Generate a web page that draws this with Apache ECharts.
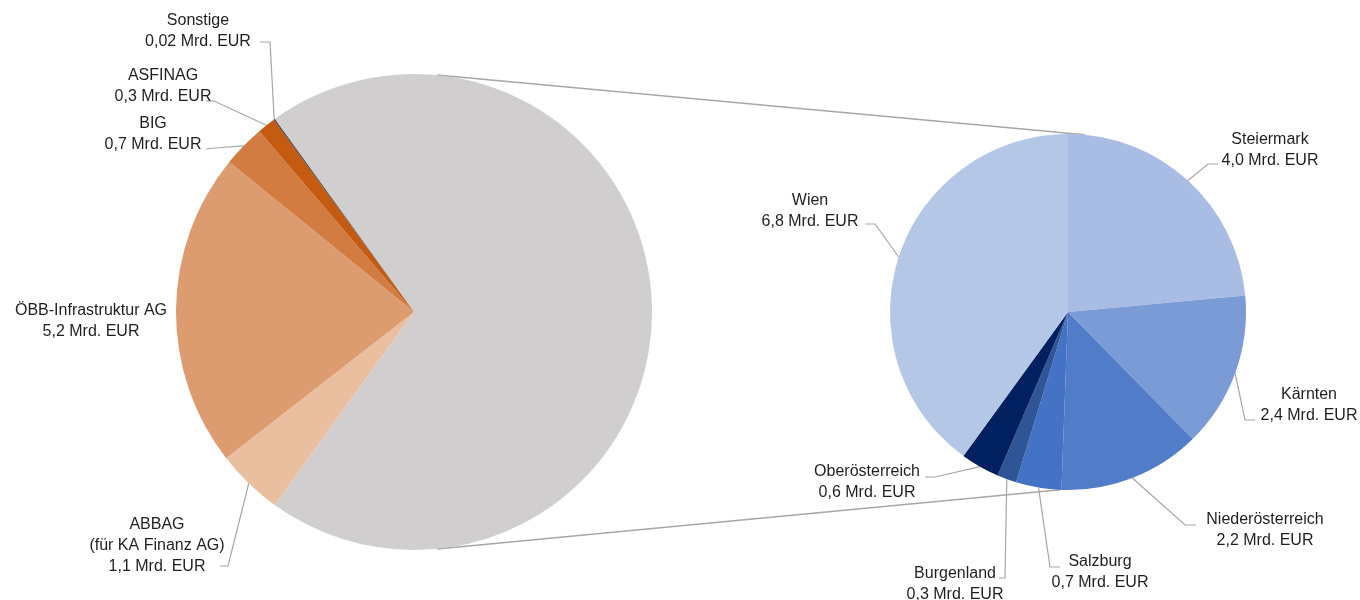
<!DOCTYPE html>
<html>
<head>
<meta charset="utf-8">
<script src="https://cdn.jsdelivr.net/npm/echarts@6/dist/echarts.min.js"></script>
<style>html,body{margin:0;padding:0;background:#fff}#c{width:1360px;height:600px}</style>
</head>
<body>
<div id="c"></div>
<script>
// Data
const mainNames = ['ABBAG\n(für KA Finanz AG)', 'ÖBB-Infrastruktur AG', 'BIG', 'ASFINAG', 'Sonstige'];
const mainValues = [1.1, 5.2, 0.7, 0.3, 0.02];
const mainLabels = ['1,1', '5,2', '0,7', '0,3', '0,02'];
const laenderNames = ['Steiermark', 'Kärnten', 'Niederösterreich', 'Salzburg', 'Burgenland', 'Oberösterreich', 'Wien'];
const laenderValues = [4.0, 2.4, 2.2, 0.7, 0.3, 0.6, 6.8];
const laenderLabels = ['4,0', '2,4', '2,2', '0,7', '0,3', '0,6', '6,8'];
const unit = ' Mrd. EUR';

// Styles / layout
const mainColors = ['#E9BFA0', '#DD9C70', '#D27C42', '#C55A11', '#3A3A3A'];
const laenderColors = ['#A9BDE4', '#7B9BD7', '#517CC8', '#4472C4', '#2F5597', '#002060', '#B4C7E7'];
const grayColor = '#D0CECE';
const C1 = [414, 312], R1 = 238;
const C2 = [1068, 312], R2 = 178;
// label block centres and leader line bend/end points (layout only)
const mainLabelPos = [null, [91, 321], [153, 134], [153, 134], [163, 86], [198, 31]];
mainLabelPos[1] = [157, 546]; mainLabelPos[2] = [91, 321];
const mainLeader = [null, [[228, 566], [220, 566]], null, [[215, 148], [206, 149]], [[214, 101], [206, 101]], [[270, 42], [260, 42]]];
const laenderLabelPos = [[1270, 150], [1309, 405], [1265, 530], [1100, 572], [955, 584], [867, 482], [810, 211]];
const laenderLeader = [[[1208, 164], [1218, 164]], [[1245, 420], [1255, 420]], [[1185, 525], [1196, 525]], [[1050, 567], [1060, 567]], [[1005, 578], [999, 578]], [[935, 477], [925, 477]], [[875, 224], [865, 224]]];

const laenderTotal = laenderValues.reduce((a, b) => a + b, 0);
const total = laenderTotal + mainValues.reduce((a, b) => a + b, 0);
const grayAngle = laenderTotal / total * 360;

const leftData = [{ name: 'Länder', value: laenderTotal, itemStyle: { color: grayColor }, label: { show: false }, labelLine: { show: false } }]
  .concat(mainNames.map((n, i) => ({
    name: n, value: mainValues[i], itemStyle: { color: mainColors[i] },
    label: { formatter: n + '\n' + mainLabels[i] + unit },
    labelLine: { show: i !== 1 }
  })));
const rightData = laenderNames.map((n, i) => ({
  name: n, value: laenderValues[i], itemStyle: { color: laenderColors[i] },
  label: { formatter: n + '\n' + laenderLabels[i] + unit }
}));

function pt(c, r, degFromTop) {
  const a = degFromTop * Math.PI / 180;
  return [c[0] + r * Math.sin(a), c[1] - r * Math.cos(a)];
}
const p1 = pt(C1, R1, 5.5), p2 = pt(C2, R2, 5.4);
const p3 = pt(C1, R1, 174.5), p4 = pt(C2, R2, 182.5);

const labelStyle = {
  fontFamily: 'Liberation Sans, Arial, sans-serif', fontSize: 16, color: '#1f1f1f',
  lineHeight: 21, align: 'center'
};
const lineStyle = { color: '#A6A6A6', width: 1.2 };

function layoutFn(posArr, leadArr) {
  return function (p) {
    const pos = posArr[p.dataIndex];
    if (!pos) return {};
    const r = { x: pos[0], y: pos[1], align: 'center', verticalAlign: 'middle' };
    const lead = leadArr[p.dataIndex];
    if (lead && p.labelLinePoints) {
      r.labelLinePoints = [p.labelLinePoints[0], lead[0], lead[1]];
    }
    return r;
  };
}

const chart = echarts.init(document.getElementById('c'));
chart.setOption({
  animation: false,
  graphic: [
    { type: 'line', shape: { x1: p1[0], y1: p1[1], x2: p2[0], y2: p2[1] }, style: { stroke: '#A6A6A6', lineWidth: 1.5 }, z: 0 },
    { type: 'line', shape: { x1: p3[0], y1: p3[1], x2: p4[0], y2: p4[1] }, style: { stroke: '#A6A6A6', lineWidth: 1.5 }, z: 0 }
  ],
  series: [
    {
      type: 'pie', center: C1, radius: R1, startAngle: grayAngle / 2, clockwise: true,
      silent: true, avoidLabelOverlap: false, minAngle: 0,
      itemStyle: { borderWidth: 0 },
      label: Object.assign({ show: true, position: 'outside' }, labelStyle),
      labelLine: { show: true, lineStyle: lineStyle, length: 0, length2: 0 },
      labelLayout: layoutFn(mainLabelPos, mainLeader),
      data: leftData, z: 2
    },
    {
      type: 'pie', center: C2, radius: R2, startAngle: 90, clockwise: true,
      silent: true, avoidLabelOverlap: false,
      itemStyle: { borderWidth: 0 },
      label: Object.assign({ show: true, position: 'outside' }, labelStyle),
      labelLine: { show: true, lineStyle: lineStyle, length: 0, length2: 0 },
      labelLayout: layoutFn(laenderLabelPos, laenderLeader),
      data: rightData, z: 2
    }
  ]
});
</script>
</body>
</html>
